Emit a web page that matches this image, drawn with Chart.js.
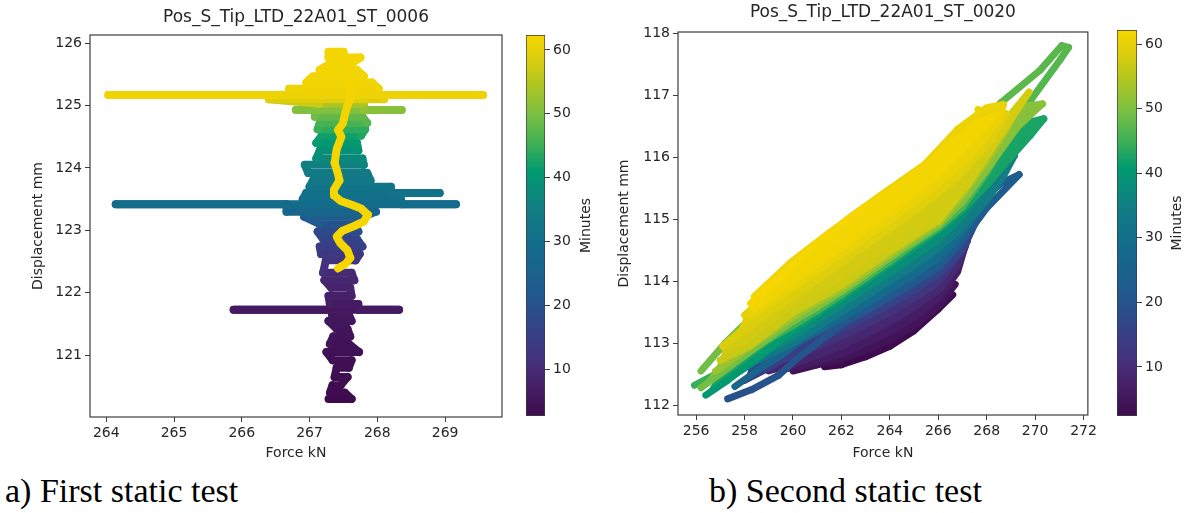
<!DOCTYPE html>
<html>
<head>
<meta charset="utf-8">
<title>Static tests – force vs displacement</title>
<script src="https://cdn.jsdelivr.net/npm/chart.js@4.4.1/dist/chart.umd.min.js"></script>
<style>
  html, body { margin: 0; padding: 0; background: #fff; }
  #page { position: relative; width: 1192px; height: 513px; overflow: hidden; background: #fff; }
  canvas { position: absolute; top: 0; }
  .caption {
    position: absolute; top: 474px;
    font-family: "Liberation Serif", "Times New Roman", serif;
    font-size: 34px; line-height: 34px; color: #000; white-space: nowrap;
  }
</style>
</head>
<body>
<div id="page">
  <canvas id="leftPlot" width="510" height="470" style="left:0"></canvas>
  <canvas id="leftBar" width="82" height="470" style="left:518px"></canvas>
  <canvas id="rightPlot" width="510" height="470" style="left:590px"></canvas>
  <canvas id="rightBar" width="82" height="470" style="left:1110px"></canvas>
  <div class="caption" style="left:5px">a) First static test</div>
  <div class="caption" style="left:709px">b) Second static test</div>
</div>
<script>
// -----------------------------
// a) First static test (ST_0006) - trace in time order
// -----------------------------
const leftForce = [
  267.28, 267.62, 267.52, 267.30, 267.34, 267.46, 267.56, 267.37, 267.40, 267.58,
  267.62, 267.34, 267.25, 267.73, 267.58, 267.30, 267.35, 267.60, 267.56, 267.40,
  267.28, 267.62, 267.58, 267.33, 267.33, 265.88, 268.32, 267.72, 267.72, 267.30,
  267.28, 267.62, 267.60, 267.32, 267.22, 267.66, 267.62, 267.20, 267.24, 267.68,
  267.74, 267.17, 267.15, 267.78, 267.70, 267.20, 267.12, 267.72, 267.66, 267.15,
  266.92, 267.80, 267.98, 266.66, 266.66, 264.14, 269.16, 268.35, 268.35, 266.90,
  266.95, 268.92, 268.20, 268.20, 267.00, 267.05, 267.90, 267.85, 266.98, 266.93,
  267.80, 267.78, 267.10, 267.15, 267.72, 267.70, 267.10, 267.18, 267.76, 267.82,
  267.12, 267.15, 267.85, 267.78, 267.08, 267.08, 266.80, 268.36, 267.80, 267.80,
  267.15, 266.40, 268.10, 268.10, 269.56, 264.03, 266.70, 266.70, 268.02, 267.92,
  266.95, 267.05, 267.80, 267.70, 267.15, 267.30, 267.62, 267.75, 267.28, 267.28,
  267.50,
  // slow return at the end of the test
  267.61, 267.56, 267.52, 267.49, 267.42, 267.47, 267.40, 267.37, 267.42, 267.44,
  267.36, 267.36, 267.46, 267.62, 267.76, 267.86, 267.80, 267.66, 267.48, 267.40,
  267.45, 267.56, 267.60, 267.54, 267.42
];
const leftDisp = [
  120.30, 120.30, 120.40, 120.40, 120.52, 120.52, 120.65, 120.65, 120.80, 120.80,
  120.92, 120.92, 121.05, 121.05, 121.18, 121.18, 121.30, 121.30, 121.42, 121.42,
  121.55, 121.55, 121.65, 121.65, 121.73, 121.73, 121.73, 121.73, 121.82, 121.82,
  121.95, 121.95, 122.08, 122.08, 122.20, 122.20, 122.32, 122.32, 122.52, 122.52,
  122.62, 122.62, 122.74, 122.74, 122.86, 122.86, 122.98, 122.98, 123.10, 123.10,
  123.22, 123.22, 123.30, 123.30, 123.42, 123.42, 123.42, 123.42, 123.50, 123.50,
  123.60, 123.60, 123.60, 123.70, 123.70, 123.80, 123.80, 123.92, 123.92, 124.05,
  124.05, 124.15, 124.15, 124.28, 124.28, 124.40, 124.40, 124.52, 124.52, 124.62,
  124.62, 124.72, 124.72, 124.82, 124.82, 124.93, 124.93, 124.93, 124.93, 125.03,
  125.03, 125.10, 125.10, 125.17, 125.17, 125.17, 125.17, 125.27, 125.27, 125.37,
  125.37, 125.47, 125.47, 125.57, 125.57, 125.67, 125.67, 125.77, 125.77, 125.86,
  125.86,
  125.14, 125.00, 124.85, 124.71, 124.61, 124.50, 124.30, 124.08, 123.90, 123.80,
  123.65, 123.56, 123.47, 123.41, 123.35, 123.25, 123.14, 123.07, 122.99, 122.90,
  122.80, 122.68, 122.56, 122.47, 122.39
];
const leftMinutes = [
  2.7, 2.8, 3.0, 3.1, 3.2, 3.3, 3.4, 3.5, 3.6, 3.7,
  3.8, 3.9, 4.0, 4.2, 4.3, 4.5, 4.6, 4.8, 4.9, 5.1,
  5.2, 5.4, 5.5, 5.7, 5.75, 5.8, 6.0, 6.1, 6.3, 6.6,
  7.0, 7.4, 7.8, 8.2, 8.6, 9.0, 9.5, 10.0, 11.0, 11.7,
  12.5, 13.2, 14.0, 14.7, 15.5, 16.2, 17.0, 18.0, 19.0, 20.5,
  22.0, 23.5, 25.0, 26.5, 27.5, 28.0, 29.0, 29.3, 29.6, 30.0,
  30.5, 31.0, 31.3, 31.6, 32.0, 32.5, 33.0, 33.5, 34.0, 34.8,
  35.5, 36.5, 37.3, 38.2, 39.0, 39.8, 40.5, 41.3, 42.0, 43.0,
  44.0, 45.0, 46.0, 47.0, 48.0, 48.8, 49.3, 50.5, 51.0, 52.0,
  54.0, 57.0, 59.0, 60.0, 60.5, 61.0, 61.1, 61.2, 61.3, 61.4,
  61.5, 61.55, 61.6, 61.65, 61.7, 61.75, 61.8, 61.85, 61.9, 61.95,
  62.0,
  62.05, 62.06, 62.07, 62.08, 62.09, 62.10, 62.11, 62.12, 62.13, 62.14,
  62.15, 62.16, 62.17, 62.18, 62.19, 62.20, 62.21, 62.22, 62.23, 62.24,
  62.25, 62.26, 62.27, 62.28, 62.30
];
const leftXTicks = [264, 265, 266, 267, 268, 269];
const leftYTicks = [121, 122, 123, 124, 125, 126];
const leftTimeRange = [2.66, 62.34];

// -----------------------------
// b) Second static test (ST_0020) - load loops in time order
// -----------------------------
// number of samples in each loop of the trace below
const rightLoopSizes = [13, 15, 18, 19, 18, 21, 26, 21, 26, 23, 28, 28, 24, 23, 17, 15, 15, 15];
const rightForce = [
  // purple
  261.3, 262.0, 263.0, 264.0, 265.0, 266.0, 266.6, 266.0, 265.0, 264.0, 263.0, 262.0, 261.3,
  260.0, 261.0, 262.0, 263.0, 264.0, 265.0, 266.0, 266.7, 266.0, 265.0, 264.0, 263.0, 262.0, 261.0, 260.2,
  259.6, 260.0, 261.0, 262.0, 263.0, 264.0, 265.0, 266.0, 266.8, 267.1, 266.6, 266.0, 265.0, 264.0, 263.0, 262.0, 261.0, 260.0,
  // indigo
  259.0, 260.0, 261.0, 262.0, 263.0, 264.0, 265.0, 266.0, 266.8, 267.2, 266.6, 266.0, 265.0, 264.0, 263.0, 262.0, 261.0, 260.0, 259.2,
  258.6, 260.0, 261.0, 262.0, 263.0, 264.0, 265.0, 266.0, 267.0, 266.8, 266.0, 265.0, 264.0, 263.0, 262.0, 261.0, 260.0, 258.8,
  // blue
  258.0, 259.0, 260.0, 261.0, 262.0, 263.0, 264.0, 265.0, 266.0, 267.0, 267.6, 267.0, 266.0, 265.0, 264.0, 263.0, 262.0, 261.0, 260.0, 259.0, 258.2,
  257.3, 258.3, 259.4, 260.2, 261.0, 262.0, 263.0, 264.0, 265.0, 266.0, 267.0, 268.0, 268.8, 269.34, 268.6, 267.6, 266.6, 265.5, 264.5, 263.5, 262.5, 261.5, 260.5, 259.5, 258.5, 257.6,
  258.6, 260.0, 261.0, 262.0, 263.0, 264.0, 265.0, 266.0, 267.0, 267.5, 267.7, 267.5, 267.0, 266.0, 265.0, 264.0, 263.0, 262.0, 261.0, 260.0, 258.8,
  // teal
  257.6, 258.5, 260.0, 261.0, 262.0, 263.0, 264.0, 265.0, 266.0, 267.0, 268.0, 268.7, 269.14, 268.9, 268.3, 267.5, 266.5, 265.5, 264.5, 263.5, 262.5, 261.5, 260.5, 259.5, 258.5, 257.8,
  257.4, 258.5, 260.0, 261.0, 262.0, 263.0, 264.0, 265.0, 266.0, 267.0, 267.8, 268.4, 267.6, 266.5, 265.5, 264.5, 263.5, 262.5, 261.5, 260.5, 259.5, 258.5, 257.6,
  // green
  256.4, 257.3, 258.5, 260.0, 261.0, 262.0, 263.0, 264.0, 265.0, 266.0, 267.0, 268.0, 269.0, 269.8, 270.36, 269.6, 268.6, 267.5, 266.5, 265.5, 264.5, 263.5, 262.5, 261.5, 260.5, 259.5, 258.3, 257.0,
  255.93, 256.8, 258.3, 260.0, 261.0, 262.0, 263.0, 264.0, 265.0, 266.0, 267.0, 268.0, 268.73, 269.82, 271.05, 271.38, 271.1, 270.2, 268.59, 267.3, 266.0, 264.5, 263.0, 261.5, 260.0, 258.5, 257.2, 256.2,
  256.2, 257.5, 259.0, 260.0, 261.0, 262.0, 263.0, 264.0, 265.0, 266.0, 267.0, 268.0, 269.3, 270.3, 269.5, 268.3, 267.2, 266.0, 264.5, 263.0, 261.5, 260.0, 258.5, 257.0,
  // yellow-green
  256.8, 258.0, 259.0, 260.0, 261.0, 262.0, 263.0, 264.0, 265.0, 266.0, 267.0, 268.0, 268.9, 269.1, 268.4, 267.3, 266.0, 264.5, 263.0, 261.5, 260.0, 258.5, 257.2,
  // yellow
  257.0, 258.2, 260.0, 262.0, 264.0, 266.0, 267.2, 268.3, 269.75, 268.9, 267.6, 266.0, 264.0, 262.0, 260.0, 258.2, 257.1,
  257.6, 259.0, 261.0, 263.0, 265.0, 266.8, 268.2, 268.8, 268.0, 266.6, 264.8, 262.8, 260.8, 259.0, 258.0,
  258.25, 259.8, 261.8, 263.8, 265.8, 267.4, 268.5, 268.7, 268.0, 266.8, 265.46, 263.5, 261.5, 259.9, 258.4,
  258.4, 260.0, 262.0, 264.0, 265.8, 267.2, 268.3, 267.6, 266.2, 264.6, 262.74, 262.19, 260.97, 259.61, 258.25
];
const rightDisp = [
  112.62, 112.65, 112.78, 112.95, 113.20, 113.55, 113.78, 113.78, 113.50, 113.25, 113.05, 112.90, 112.78,
  112.55, 112.65, 112.74, 112.88, 113.05, 113.28, 113.60, 113.95, 113.88, 113.55, 113.30, 113.10, 112.95, 112.85, 112.75,
  112.58, 112.60, 112.70, 112.82, 113.00, 113.18, 113.42, 113.72, 114.15, 114.55, 114.40, 114.00, 113.70, 113.45, 113.25, 113.05, 112.92, 112.80,
  112.55, 112.66, 112.80, 112.95, 113.15, 113.35, 113.58, 113.85, 114.25, 114.65, 114.50, 114.15, 113.88, 113.62, 113.40, 113.20, 113.02, 112.88, 112.75,
  112.60, 112.78, 112.95, 113.12, 113.30, 113.50, 113.72, 113.98, 114.50, 114.78, 114.30, 114.02, 113.78, 113.55, 113.35, 113.15, 113.00, 112.82,
  112.40, 112.60, 112.82, 113.03, 113.22, 113.42, 113.62, 113.85, 114.10, 114.50, 115.00, 114.88, 114.42, 114.15, 113.90, 113.68, 113.48, 113.28, 113.08, 112.86, 112.62,
  112.10, 112.25, 112.48, 112.76, 113.00, 113.30, 113.52, 113.74, 113.97, 114.22, 114.65, 115.18, 115.50, 115.72, 115.58, 115.22, 114.80, 114.42, 114.12, 113.88, 113.62, 113.38, 113.10, 112.80, 112.55, 112.30,
  112.72, 112.98, 113.18, 113.40, 113.62, 113.86, 114.10, 114.36, 114.78, 115.05, 115.15, 115.40, 115.20, 114.72, 114.42, 114.18, 113.92, 113.68, 113.46, 113.24, 112.92,
  112.50, 112.72, 113.00, 113.25, 113.50, 113.75, 114.00, 114.25, 114.52, 114.88, 115.30, 115.70, 116.02, 116.12, 115.95, 115.60, 115.15, 114.78, 114.50, 114.22, 113.95, 113.70, 113.42, 113.18, 112.95, 112.72,
  112.55, 112.80, 113.10, 113.36, 113.62, 113.88, 114.13, 114.40, 114.67, 115.05, 115.50, 115.95, 115.80, 115.30, 114.92, 114.62, 114.35, 114.08, 113.82, 113.55, 113.30, 113.05, 112.80,
  112.16, 112.40, 112.75, 113.21, 113.47, 113.73, 114.00, 114.27, 114.55, 114.82, 115.15, 115.55, 116.00, 116.35, 116.62, 116.55, 116.15, 115.70, 115.28, 114.98, 114.70, 114.42, 114.15, 113.88, 113.62, 113.35, 113.00, 112.60,
  112.32, 112.50, 112.90, 113.28, 113.52, 113.78, 114.05, 114.32, 114.60, 114.86, 115.20, 115.75, 116.25, 116.92, 117.58, 117.77, 117.80, 117.40, 116.88, 116.35, 115.85, 115.35, 114.90, 114.45, 114.00, 113.50, 113.00, 112.55,
  112.28, 112.65, 113.08, 113.35, 113.58, 113.83, 114.10, 114.38, 114.64, 114.90, 115.28, 115.80, 116.50, 116.86, 116.82, 116.40, 115.95, 115.40, 114.95, 114.50, 114.05, 113.65, 113.20, 112.72,
  112.55, 112.88, 113.15, 113.42, 113.65, 113.88, 114.15, 114.43, 114.70, 114.94, 115.40, 115.95, 116.50, 116.72, 116.55, 116.05, 115.50, 115.05, 114.62, 114.20, 113.78, 113.30, 112.90,
  112.72, 112.95, 113.49, 113.93, 114.48, 114.98, 115.55, 116.20, 117.05, 116.65, 116.05, 115.48, 114.92, 114.38, 113.82, 113.32, 112.95,
  113.10, 113.48, 114.02, 114.58, 115.12, 115.68, 116.28, 116.70, 116.50, 115.95, 115.42, 114.88, 114.33, 113.80, 113.45,
  113.45, 113.85, 114.38, 114.92, 115.50, 116.05, 116.60, 116.85, 116.80, 116.45, 115.89, 115.35, 114.78, 114.30, 113.75,
  113.55, 114.00, 114.55, 115.10, 115.65, 116.20, 116.65, 116.55, 116.10, 115.60, 115.14, 114.98, 114.60, 114.12, 113.64
];
const rightMinutes = [
  2.4, 2.5, 2.6, 2.7, 2.8, 2.9, 3.0, 3.1, 3.3, 3.4, 3.6, 3.7, 3.9,
  4.0, 4.1, 4.2, 4.3, 4.4, 4.5, 4.6, 4.7, 4.8, 4.9, 5.0, 5.2, 5.3, 5.5, 5.6,
  5.8, 5.9, 6.0, 6.1, 6.2, 6.3, 6.4, 6.6, 6.7, 6.8, 6.9, 7.0, 7.2, 7.3, 7.4, 7.6, 7.7, 7.9,
  8.0, 8.15, 8.3, 8.45, 8.6, 8.75, 8.9, 9.05, 9.2, 9.35, 9.5, 9.65, 9.8, 9.95, 10.1, 10.25, 10.4, 10.55, 10.7,
  10.9, 11.1, 11.25, 11.4, 11.6, 11.75, 11.9, 12.1, 12.25, 12.4, 12.6, 12.75, 12.9, 13.1, 13.25, 13.4, 13.6, 13.9,
  14.0, 14.25, 14.5, 14.75, 15.0, 15.25, 15.5, 15.75, 16.0, 16.25, 16.5, 16.75, 17.0, 17.25, 17.5, 17.75, 18.0, 18.25, 18.5, 18.75, 19.0,
  19.2, 19.5, 19.7, 20.0, 20.3, 20.5, 20.8, 21.0, 21.3, 21.6, 21.8, 22.1, 22.4, 22.6, 22.9, 23.1, 23.4, 23.7, 23.9, 24.2, 24.5, 24.7, 25.0, 25.2, 25.5, 26.0,
  26.2, 26.5, 26.9, 27.2, 27.5, 27.8, 28.2, 28.5, 28.8, 29.2, 29.5, 29.8, 30.1, 30.5, 30.8, 31.1, 31.5, 31.8, 32.1, 32.5, 32.8,
  33.0, 33.2, 33.3, 33.5, 33.6, 33.8, 34.0, 34.1, 34.3, 34.4, 34.6, 34.8, 34.9, 35.1, 35.2, 35.4, 35.6, 35.7, 35.9, 36.0, 36.2, 36.4, 36.5, 36.7, 36.8, 37.0,
  37.1, 37.3, 37.4, 37.6, 37.7, 37.9, 38.0, 38.2, 38.3, 38.5, 38.6, 38.8, 38.9, 39.1, 39.2, 39.4, 39.5, 39.7, 39.8, 40.0, 40.1, 40.3, 40.4,
  40.5, 40.6, 40.8, 40.9, 41.1, 41.2, 41.4, 41.5, 41.7, 41.8, 42.0, 42.1, 42.2, 42.4, 42.5, 42.7, 42.8, 43.0, 43.1, 43.3, 43.4, 43.5, 43.7, 43.8, 44.0, 44.1, 44.3, 44.4,
  44.5, 44.7, 44.8, 45.0, 45.2, 45.3, 45.5, 45.7, 45.8, 46.0, 46.2, 46.3, 46.5, 46.7, 46.8, 47.0, 47.2, 47.3, 47.5, 47.7, 47.8, 48.0, 48.2, 48.3, 48.5, 48.7, 48.8, 49.0,
  49.1, 49.2, 49.4, 49.5, 49.6, 49.8, 49.9, 50.0, 50.2, 50.3, 50.4, 50.6, 50.7, 50.8, 51.0, 51.1, 51.2, 51.4, 51.5, 51.6, 51.8, 51.9, 52.0, 52.1,
  52.3, 52.5, 52.6, 52.8, 52.9, 53.1, 53.2, 53.4, 53.6, 53.7, 53.9, 54.0, 54.2, 54.3, 54.5, 54.7, 54.8, 55.0, 55.1, 55.3, 55.4, 55.6, 55.7,
  56.5, 56.6, 56.8, 56.9, 57.0, 57.2, 57.3, 57.4, 57.6, 57.7, 57.8, 58.0, 58.1, 58.2, 58.3, 58.4, 58.5,
  58.6, 58.7, 58.8, 58.9, 59.0, 59.1, 59.2, 59.3, 59.4, 59.5, 59.6, 59.7, 59.8, 59.9, 60.0,
  60.1, 60.2, 60.3, 60.35, 60.4, 60.5, 60.6, 60.7, 60.75, 60.8, 60.9, 61.0, 61.05, 61.1, 61.2,
  61.25, 61.3, 61.4, 61.45, 61.5, 61.6, 61.7, 61.75, 61.8, 61.85, 61.9, 62.0, 62.05, 62.1, 62.2
];
// lone sample above the loops
const rightDotForce = [267.64];
const rightDotDisp = [116.77];
const rightDotMinutes = [61.0];
const rightXTicks = [256, 258, 260, 262, 264, 266, 268, 270, 272];
const rightYTicks = [112, 113, 114, 115, 116, 117, 118];
const rightTimeRange = [2.4, 62.2];

const barTicks = [10, 20, 30, 40, 50, 60];

// -----------------------------
// Colour map (viridis as it looks in the figure)
// -----------------------------
const mapStops = [
  [0.000, "#3d0a4c"], [0.073, "#461e66"], [0.140, "#45307a"], [0.207, "#383e86"],
  [0.324, "#205a8e"], [0.458, "#126e8b"], [0.542, "#127d84"], [0.642, "#019a70"],
  [0.709, "#3aaf57"], [0.793, "#7cc042"], [0.877, "#b4c61e"], [0.927, "#d6cc10"],
  [1.000, "#f7d600"]
];

// loops whose inside stays white in the figure (index into rightLoopSizes)
const hollowLoops = [6, 11];

function hexToRgb(h) {
  return [parseInt(h.slice(1, 3), 16), parseInt(h.slice(3, 5), 16), parseInt(h.slice(5, 7), 16)];
}

function cmap(f) {
  f = Math.max(0, Math.min(1, f));
  for (let i = 1; i < mapStops.length; i++) {
    if (f <= mapStops[i][0]) {
      const [f0, c0] = mapStops[i - 1];
      const [f1, c1] = mapStops[i];
      const k = (f - f0) / (f1 - f0);
      const a = hexToRgb(c0), b = hexToRgb(c1);
      return `rgb(${Math.round(a[0] + (b[0] - a[0]) * k)},${Math.round(a[1] + (b[1] - a[1]) * k)},${Math.round(a[2] + (b[2] - a[2]) * k)})`;
    }
  }
  return mapStops[mapStops.length - 1][1];
}

const FONT = "'DejaVu Sans', Verdana, sans-serif";
const TEXT = "#262626";
const SPINE = "#3c3c3c";

// box round the plot area (matplotlib spines)
const framePlugin = {
  id: "frame",
  afterDatasetsDraw(chart) {
    const { ctx, chartArea: a } = chart;
    ctx.save();
    ctx.strokeStyle = SPINE;
    ctx.lineWidth = 1.2;
    ctx.strokeRect(a.left, a.top, a.right - a.left, a.bottom - a.top);
    ctx.restore();
  }
};

// rotated label read bottom-to-top, like the colorbar label
const sideLabelPlugin = {
  id: "sideLabel",
  afterDraw(chart, args, opts) {
    if (!opts.text) return;
    const { ctx, chartArea } = chart;
    ctx.save();
    ctx.translate(opts.x, (chartArea.top + chartArea.bottom) / 2);
    ctx.rotate(-Math.PI / 2);
    ctx.font = `14px ${FONT}`;
    ctx.fillStyle = TEXT;
    ctx.textAlign = "center";
    ctx.textBaseline = "middle";
    ctx.fillText(opts.text, 0, 0);
    ctx.restore();
  }
};

function tickAxis(extra) {
  return Object.assign({
    type: "linear",
    grid: { drawOnChartArea: false, drawTicks: true, tickLength: 5, color: SPINE, lineWidth: 1 },
    border: { display: false },
    ticks: { font: { family: FONT, size: 14 }, color: TEXT, padding: 3, maxRotation: 0 }
  }, extra);
}

// one trace (optionally split in loops) coloured by minutes
function traceDatasets(cfg) {
  const [t0, t1] = cfg.timeRange;
  const colorAt = (m) => cmap((m - t0) / (t1 - t0));
  const sizes = cfg.loopSizes || [cfg.force.length];
  const out = [];
  let start = 0;
  sizes.forEach((n, k) => {
    const idx = Array.from({ length: n }, (_, j) => start + j);
    const pts = idx.map((i) => ({ x: cfg.force[i], y: cfg.disp[i] }));
    const mins = idx.map((i) => cfg.minutes[i]);
    const rank = 2 * (sizes.length - k) + 2;   // later loops drawn on top

    if (cfg.loopSizes && !(cfg.hollow || []).includes(k)) {
      const mean = mins.reduce((a, b) => a + b, 0) / mins.length;
      out.push({
        data: pts, showLine: true, pointRadius: 0, borderWidth: 0,
        fill: "shape", backgroundColor: colorAt(mean), order: rank + 1
      });
    }
    out.push({
      data: pts,
      showLine: true,
      pointRadius: 0,
      borderWidth: cfg.lineWidth,
      borderCapStyle: "round",
      borderJoinStyle: "round",
      borderColor: colorAt(mins[0]),
      segment: { borderColor: (c) => colorAt(mins[c.p1DataIndex]) },
      fill: false,
      tension: 0,
      order: rank
    });
    start += n;
  });

  if (cfg.dotForce) {
    out.push({
      data: cfg.dotForce.map((x, i) => ({ x, y: cfg.dotDisp[i] })),
      showLine: false,
      pointRadius: 3.5,
      borderWidth: 0,
      backgroundColor: cfg.dotMinutes.map(colorAt),
      order: 0
    });
  }
  return out;
}

function makeScatter(id, cfg) {
  new Chart(document.getElementById(id), {
    type: "scatter",
    data: { datasets: traceDatasets(cfg) },
    options: {
      responsive: false,
      animation: false,
      events: [],
      layout: { padding: { left: 0, right: 8, top: 0, bottom: 0 } },
      plugins: { legend: { display: false }, tooltip: { enabled: false }, filler: { propagate: false } },
      scales: {
        x: tickAxis({
          position: "bottom",
          min: cfg.xMin, max: cfg.xMax,
          afterBuildTicks: (s) => { s.ticks = cfg.xTicks.map((v) => ({ value: v })); },
          afterFit: (s) => { s.height = cfg.xAxisHeight; },
          title: { display: true, text: "Force kN", color: TEXT, font: { family: FONT, size: 14 }, padding: { top: 0, bottom: 8.6 } }
        }),
        y: tickAxis({
          position: "left",
          min: cfg.yMin, max: cfg.yMax,
          afterBuildTicks: (s) => { s.ticks = cfg.yTicks.map((v) => ({ value: v })); },
          afterFit: (s) => { s.width = cfg.yAxisWidth; },
          title: { display: true, text: "Displacement mm", color: TEXT, font: { family: FONT, size: 14 }, padding: { top: cfg.yTitlePad, bottom: 0 } }
        }),
        // top axis only carries the plot title, centred over the plot area
        titleAxis: {
          type: "linear", axis: "x", position: "top", min: 0, max: 1,
          grid: { display: false }, border: { display: false },
          ticks: { display: false },
          afterFit: (s) => { s.height = cfg.topHeight; },
          title: { display: true, text: cfg.title, color: TEXT, font: { family: FONT, size: 17 }, padding: { top: cfg.titlePad, bottom: 0 } }
        }
      }
    },
    plugins: [framePlugin]
  });
}

function makeColorBar(id, cfg) {
  const [t0, t1] = cfg.timeRange;
  new Chart(document.getElementById(id), {
    type: "bar",
    data: {
      labels: [""],
      datasets: [{
        data: [[t0, t1]],
        backgroundColor: (c) => {
          const area = c.chart.chartArea;
          if (!area) return mapStops[0][1];
          const g = c.chart.ctx.createLinearGradient(0, area.bottom, 0, area.top);
          mapStops.forEach(([f, col]) => g.addColorStop(f, col));
          return g;
        },
        borderColor: SPINE,
        borderWidth: 1,
        borderSkipped: false,
        barPercentage: 1,
        categoryPercentage: 1
      }]
    },
    options: {
      responsive: false,
      animation: false,
      events: [],
      layout: { padding: { left: cfg.padLeft, right: 0, top: cfg.top, bottom: cfg.bottom } },
      plugins: {
        legend: { display: false },
        tooltip: { enabled: false },
        sideLabel: { text: "Minutes", x: cfg.labelX }
      },
      scales: {
        x: { display: false },
        y: tickAxis({
          position: "right",
          min: t0, max: t1,
          afterBuildTicks: (s) => { s.ticks = barTicks.map((v) => ({ value: v })); },
          afterFit: (s) => { s.width = 55; }
        })
      }
    },
    plugins: [sideLabelPlugin]
  });
}

makeScatter("leftPlot", {
  title: "Pos_S_Tip_LTD_22A01_ST_0006",
  force: leftForce, disp: leftDisp, minutes: leftMinutes, timeRange: leftTimeRange,
  lineWidth: 8,
  xTicks: leftXTicks, yTicks: leftYTicks,
  xMin: 263.76, xMax: 269.84, yMin: 120.01, yMax: 126.13,
  xAxisHeight: 53, yAxisWidth: 90, topHeight: 35, titlePad: 7.8, yTitlePad: 30
});

makeScatter("rightPlot", {
  title: "Pos_S_Tip_LTD_22A01_ST_0020",
  force: rightForce, disp: rightDisp, minutes: rightMinutes, timeRange: rightTimeRange,
  loopSizes: rightLoopSizes, hollow: hollowLoops, lineWidth: 7,
  dotForce: rightDotForce, dotDisp: rightDotDisp, dotMinutes: rightDotMinutes,
  xTicks: rightXTicks, yTicks: rightYTicks,
  xMin: 255.25, xMax: 272.18, yMin: 111.84, yMax: 118.02,
  xAxisHeight: 55, yAxisWidth: 88, topHeight: 32, titlePad: 2.8, yTitlePad: 25.6
});

makeColorBar("leftBar", { timeRange: leftTimeRange, padLeft: 8, top: 35, bottom: 54, labelX: 68 });
makeColorBar("rightBar", { timeRange: rightTimeRange, padLeft: 7, top: 30, bottom: 54, labelX: 67 });
</script>
</body>
</html>
